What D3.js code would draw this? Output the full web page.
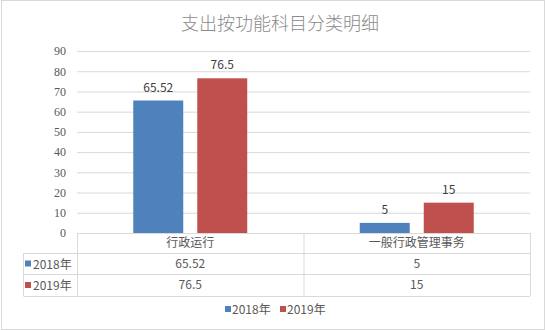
<!DOCTYPE html>
<html lang="zh">
<head>
<meta charset="UTF-8">
<script src="https://d3js.org/d3.v7.min.js"></script>
<style>
  body { margin: 0; background: #fff; }
  text { font-family: "Noto Sans CJK SC", "Liberation Sans", sans-serif; }
</style>
</head>
<body>
<svg id="chart"></svg>
<script>
const categories = ["行政运行", "一般行政管理事务"];
const seriesNames = ["2018年", "2019年"];
const values2018 = [65.52, 5];
const values2019 = [76.5, 15];
const yTicks = [0, 10, 20, 30, 40, 50, 60, 70, 80, 90];
const colors = ["#4f81bd", "#c0504d"];

const width = 545, height = 330;
const svg = d3.select("#chart").attr("width", width).attr("height", height);

const series = [values2018, values2019];
const plotLeft = 77, plotRight = 530, plotTop = 51, plotBottom = 233;

// outer frame
svg.append("rect").attr("x", 1.5).attr("y", 0.5).attr("width", 543).attr("height", 329)
  .attr("fill", "#fff").attr("stroke", "#d9d9d9");

svg.append("text").attr("x", 280).attr("y", 30).attr("text-anchor", "middle")
  .attr("font-size", 18).attr("font-weight", 300).attr("fill", "#8a8a8a").text("支出按功能科目分类明细");

const x0 = d3.scaleBand().domain(categories).range([plotLeft, plotRight]);
const x1 = d3.scaleBand().domain(seriesNames).range([0, x0.bandwidth()])
  .paddingInner(0.219).paddingOuter(0.879);
const y = d3.scaleLinear().domain([0, 90]).range([plotBottom, plotTop]);

// gridlines + y labels
const yAxis = svg.append("g").attr("transform", `translate(${plotLeft},0)`)
  .call(d3.axisLeft(y).tickValues(yTicks).tickSize(-(plotRight - plotLeft)).tickPadding(11));
yAxis.select(".domain").remove();
yAxis.selectAll(".tick line").attr("stroke", "#d9d9d9");
yAxis.selectAll(".tick text").attr("fill", "#595959").attr("font-size", 12)
  .style("font-family", "'Liberation Serif', serif");

// bars
series.forEach((vals, si) => {
  const g = svg.append("g");
  g.selectAll("rect").data(vals).enter().append("rect")
    .attr("x", (d, i) => x0(categories[i]) + x1(seriesNames[si]))
    .attr("y", d => y(d))
    .attr("width", x1.bandwidth())
    .attr("height", d => y(0) - y(d))
    .attr("fill", colors[si]);
  g.selectAll("text").data(vals).enter().append("text")
    .attr("x", (d, i) => x0(categories[i]) + x1(seriesNames[si]) + x1.bandwidth() / 2)
    .attr("y", d => y(d) - 9)
    .attr("text-anchor", "middle").attr("font-size", 12).attr("fill", "#404040")
    .text(d => d);
});

// data table
const rowY = [233, 253, 274, 296];
const keyLeft = 23.5;
const tbl = svg.append("g").attr("stroke", "#d9d9d9").attr("fill", "none");
tbl.append("line").attr("x1", plotLeft).attr("x2", plotRight).attr("y1", rowY[0] + 0.5).attr("y2", rowY[0] + 0.5);
rowY.slice(1).forEach(ry => {
  tbl.append("line").attr("x1", keyLeft).attr("x2", plotRight).attr("y1", ry + 0.5).attr("y2", ry + 0.5);
});
[plotLeft, x0(categories[1]), plotRight].forEach(vx => {
  tbl.append("line").attr("x1", vx + 0.5).attr("x2", vx + 0.5).attr("y1", rowY[0]).attr("y2", rowY[3]);
});
tbl.append("line").attr("x1", keyLeft).attr("x2", keyLeft).attr("y1", rowY[1]).attr("y2", rowY[3]);

categories.forEach(c => {
  svg.append("text").attr("x", x0(c) + x0.bandwidth() / 2).attr("y", (rowY[0] + rowY[1]) / 2 + 4)
    .attr("text-anchor", "middle").attr("font-size", 12).attr("fill", "#595959").text(c);
});
series.forEach((vals, si) => {
  const cy = (rowY[si + 1] + rowY[si + 2]) / 2;
  svg.append("rect").attr("x", 25).attr("y", cy - 3).attr("width", 6).attr("height", 6).attr("fill", colors[si]);
  svg.append("text").attr("x", 33).attr("y", cy + 5).attr("font-size", 12).attr("fill", "#595959").text(seriesNames[si]);
  vals.forEach((v, i) => {
    svg.append("text").attr("x", x0(categories[i]) + x0.bandwidth() / 2).attr("y", cy + 4)
      .attr("text-anchor", "middle").attr("font-size", 12).attr("fill", "#595959").text(v);
  });
});

// legend
const legendX = [225, 280];
seriesNames.forEach((s, i) => {
  svg.append("rect").attr("x", legendX[i]).attr("y", 306).attr("width", 6).attr("height", 6).attr("fill", colors[i]);
  svg.append("text").attr("x", legendX[i] + 7).attr("y", 314).attr("font-size", 12).attr("fill", "#595959").text(s);
});
</script>
</body>
</html>
